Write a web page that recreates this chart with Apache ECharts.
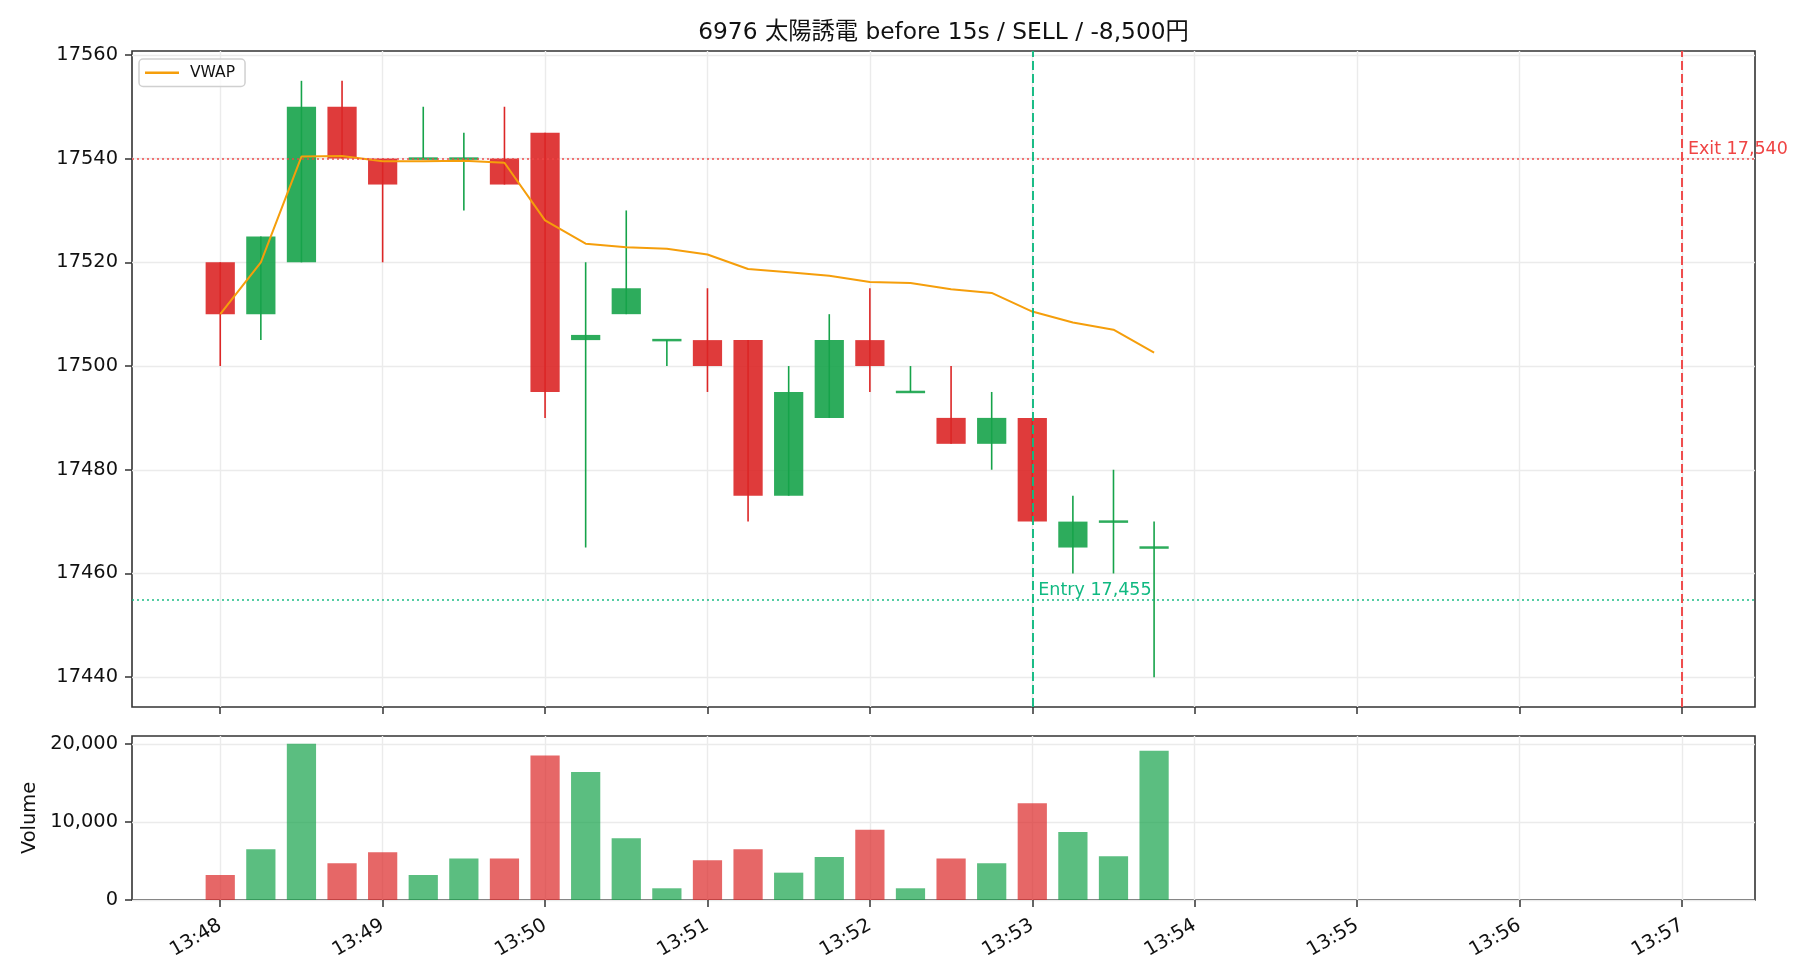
<!DOCTYPE html>
<html>
<head>
<meta charset="utf-8">
<script src="https://cdn.jsdelivr.net/npm/echarts@6/dist/echarts.min.js"></script>
<style>
  html, body { margin: 0; padding: 0; background: #fff; }
  #main { width: 1820px; height: 980px; }
</style>
</head>
<body>
<div id="main"></div>
<script>
  // 15s bars
  var times = ['13:48:00', '13:48:15', '13:48:30', '13:48:45', '13:49:00', '13:49:15', '13:49:30', '13:49:45',
    '13:50:00', '13:50:15', '13:50:30', '13:50:45', '13:51:00', '13:51:15', '13:51:30', '13:51:45',
    '13:52:00', '13:52:15', '13:52:30', '13:52:45', '13:53:00', '13:53:15', '13:53:30', '13:53:45'];
  var opens = [17520, 17510, 17520, 17550, 17540, 17540, 17540, 17540, 17545, 17505, 17510, 17505,
    17505, 17505, 17475, 17490, 17505, 17495, 17490, 17485, 17490, 17465, 17470, 17465];
  var highs = [17520, 17525, 17555, 17555, 17540, 17550, 17545, 17550, 17545, 17520, 17530, 17505,
    17515, 17505, 17500, 17510, 17515, 17500, 17500, 17495, 17490, 17475, 17480, 17470];
  var lows = [17500, 17505, 17520, 17540, 17520, 17540, 17530, 17535, 17490, 17465, 17510, 17500,
    17495, 17470, 17475, 17490, 17495, 17495, 17485, 17480, 17470, 17460, 17460, 17440];
  var closes = [17510, 17525, 17550, 17540, 17535, 17540, 17540, 17535, 17495, 17506, 17515, 17505,
    17500, 17475, 17495, 17505, 17500, 17495, 17485, 17490, 17470, 17470, 17470, 17465];
  var volumes = [3200, 6500, 20000, 4700, 6100, 3200, 5300, 5300, 18500, 16400, 7900, 1500,
    5100, 6500, 3500, 5500, 9000, 1500, 5300, 4700, 12400, 8700, 5600, 19100];
  var vwap = [17510, 17520, 17540.4, 17540.5, 17539.5, 17539.5, 17539.6, 17539.2, 17528.1, 17523.6, 17522.9, 17522.6,
    17521.5, 17518.7, 17518.1, 17517.4, 17516.2, 17516.0, 17514.8, 17514.1, 17510.5, 17508.4, 17507.0, 17502.6];

  var minuteTicks = ['13:48', '13:49', '13:50', '13:51', '13:52', '13:53', '13:54', '13:55', '13:56', '13:57'];
  var priceTicks = [17440, 17460, 17480, 17500, 17520, 17540, 17560];
  var volumeTicks = [0, 10000, 20000];

  var entryTime = '13:53:00', entryPrice = 17455;
  var exitTime = '13:57:00', exitPrice = 17540;
  var noteLabels = ['Entry 17,455', 'Exit 17,540'];

  var RED = '#dc2626', GREEN = '#16a34a';
  var FONT = "'DejaVu Sans', 'Noto Sans CJK JP', sans-serif";
  var BAR_SEC = 10.8;

  function toSec(t) {
    var p = t.split(':');
    return +p[0] * 3600 + +p[1] * 60 + (p[2] ? +p[2] : 0);
  }
  function fmtHM(v) {
    var h = Math.floor(v / 3600), m = Math.round((v % 3600) / 60);
    return h + ':' + (m < 10 ? '0' : '') + m;
  }

  var xs = times.map(toSec);
  var minuteSecs = minuteTicks.map(toSec);
  var X_MIN = xs[0] - 32.6, X_MAX = toSec(exitTime) + 27;

  var candleData = [], volData = [], vwapData = [];
  for (var i = 0; i < xs.length; i++) {
    candleData.push([xs[i], opens[i], closes[i], lows[i], highs[i]]);
    volData.push([xs[i], volumes[i], closes[i] >= opens[i] ? 1 : 0]);
    vwapData.push([xs[i], vwap[i]]);
  }

  var dom = document.getElementById('main');
  var myChart = echarts.init(dom, null, { renderer: 'canvas' });

  function renderCandle(params, api) {
    var x = api.value(0), o = api.value(1), c = api.value(2), l = api.value(3), h = api.value(4);
    var col = c >= o ? GREEN : RED;
    var w = api.size([BAR_SEC, 0])[0];
    var pH = api.coord([x, h]), pL = api.coord([x, l]);
    var pTop = api.coord([x, Math.max(o, c)]), pBot = api.coord([x, Math.min(o, c)]);
    var y0 = pTop[1], bh = pBot[1] - pTop[1];
    if (bh < 2.5) {
      y0 = (pTop[1] + pBot[1]) / 2 - 1.25;
      bh = 2.5;
    }
    return {
      type: 'group',
      children: [
        { type: 'line', shape: { x1: pH[0], y1: pH[1], x2: pL[0], y2: pL[1] }, style: { stroke: col, lineWidth: 1.6 } },
        { type: 'rect', shape: { x: pTop[0] - w / 2, y: y0, width: w, height: bh }, style: { fill: col, opacity: 0.9 } }
      ]
    };
  }

  function renderVolume(params, api) {
    var x = api.value(0), v = api.value(1);
    var col = api.value(2) ? GREEN : RED;
    var w = api.size([BAR_SEC, 0])[0];
    var p0 = api.coord([x, 0]), p1 = api.coord([x, v]);
    return {
      type: 'rect',
      shape: { x: p0[0] - w / 2, y: p1[1], width: w, height: p0[1] - p1[1] },
      style: { fill: col, opacity: 0.7 }
    };
  }

  function renderNote(params, api) {
    var p = api.coord([api.value(0), api.value(1)]);
    return {
      type: 'text',
      x: p[0] + 6,
      y: p[1] - 0.5,
      style: {
        text: noteLabels[params.dataIndex],
        fill: params.dataIndex === 0 ? '#10b981' : '#ef4444',
        font: '17.5px ' + FONT,
        align: 'left',
        verticalAlign: 'bottom'
      }
    };
  }

  var tickStyle = { length: 7, lineStyle: { color: '#333', width: 1.5 } };
  var gridLine = { show: true, lineStyle: { color: '#ebebeb', width: 1.4 } };
  var labelStyle = { color: '#111', fontSize: 19.4, fontFamily: FONT };

  var option = {
    animation: false,
    backgroundColor: '#fff',
    title: {
      text: '6976 太陽誘電 before 15s / SELL / -8,500円',
      left: 943.5,
      top: 21,
      padding: 0,
      textAlign: 'center',
      textStyle: { fontSize: 23.3, fontWeight: 'normal', color: '#111', fontFamily: FONT }
    },
    legend: {
      data: ['VWAP'],
      left: 139,
      top: 59,
      padding: [6, 10, 6, 6],
      icon: 'rect',
      itemWidth: 34,
      itemHeight: 2.4,
      borderColor: '#d0d0d0',
      borderWidth: 1.5,
      borderRadius: 4,
      backgroundColor: 'rgba(255,255,255,0.8)',
      textStyle: { fontSize: 15.5, color: '#111', fontFamily: FONT, padding: [0, 0, 0, 6] }
    },
    grid: [
      { left: 132, right: 65, top: 51, height: 656, show: true, borderColor: '#333', borderWidth: 1.6 },
      { left: 132, right: 65, top: 736, height: 164, show: true, borderColor: '#333', borderWidth: 1.6 }
    ],
    xAxis: [
      {
        type: 'value', gridIndex: 0, min: X_MIN, max: X_MAX,
        axisLine: { show: false },
        axisTick: Object.assign({ show: true, customValues: minuteSecs }, tickStyle),
        axisLabel: { show: false, customValues: minuteSecs },
        splitLine: gridLine
      },
      {
        type: 'value', gridIndex: 1, min: X_MIN, max: X_MAX,
        axisLine: { show: false },
        axisTick: Object.assign({ show: true, customValues: minuteSecs }, tickStyle),
        axisLabel: Object.assign({
          customValues: minuteSecs, rotate: 30, margin: 24,
          formatter: function (v) { return fmtHM(v); }
        }, labelStyle),
        splitLine: gridLine
      }
    ],
    yAxis: [
      {
        type: 'value', gridIndex: 0, min: 17434.25, max: 17560.75,
        axisLine: { show: false },
        axisTick: Object.assign({ show: true, customValues: priceTicks }, tickStyle),
        axisLabel: Object.assign({
          customValues: priceTicks, margin: 14,
          formatter: function (v) { return String(v); }
        }, labelStyle),
        splitLine: gridLine
      },
      {
        type: 'value', gridIndex: 1, min: 0, max: 21000,
        name: 'Volume', nameLocation: 'middle', nameRotate: 90, nameGap: 92,
        nameTextStyle: labelStyle,
        axisLine: { show: false },
        axisTick: Object.assign({ show: true, customValues: volumeTicks }, tickStyle),
        axisLabel: Object.assign({
          customValues: volumeTicks, margin: 14,
          formatter: function (v) { return v.toLocaleString('en-US'); }
        }, labelStyle),
        splitLine: gridLine
      }
    ],
    series: [
      {
        name: 'candles',
        type: 'custom',
        xAxisIndex: 0, yAxisIndex: 0,
        renderItem: renderCandle,
        encode: { x: 0, y: [1, 2, 3, 4] },
        data: candleData,
        z: 2
      },
      {
        name: 'VWAP',
        type: 'line',
        xAxisIndex: 0, yAxisIndex: 0,
        data: vwapData,
        symbol: 'none',
        color: '#f59e0b',
        lineStyle: { color: '#f59e0b', width: 2 },
        z: 4,
        markLine: {
          silent: true,
          symbol: ['none', 'none'],
          label: { show: false },
          animation: false,
          data: [
            { yAxis: exitPrice, lineStyle: { color: '#ef4444', width: 1.6, type: [2, 3], opacity: 0.95 } },
            { yAxis: entryPrice, lineStyle: { color: '#10b981', width: 1.6, type: [2, 3], opacity: 0.95 } },
            { xAxis: toSec(entryTime), lineStyle: { color: '#10b981', width: 2, type: [9, 4], opacity: 0.95 } },
            { xAxis: toSec(exitTime), lineStyle: { color: '#ef4444', width: 2, type: [9, 4], opacity: 0.95 } }
          ]
        }
      },
      {
        name: 'notes',
        type: 'custom',
        xAxisIndex: 0, yAxisIndex: 0,
        renderItem: renderNote,
        clip: false,
        encode: { x: 0, y: 1 },
        data: [[toSec(entryTime), entryPrice], [toSec(exitTime), exitPrice]],
        z: 5
      },
      {
        name: 'volume',
        type: 'custom',
        xAxisIndex: 1, yAxisIndex: 1,
        renderItem: renderVolume,
        encode: { x: 0, y: 1 },
        data: volData,
        z: 2
      }
    ]
  };

  myChart.setOption(option);
</script>
</body>
</html>
